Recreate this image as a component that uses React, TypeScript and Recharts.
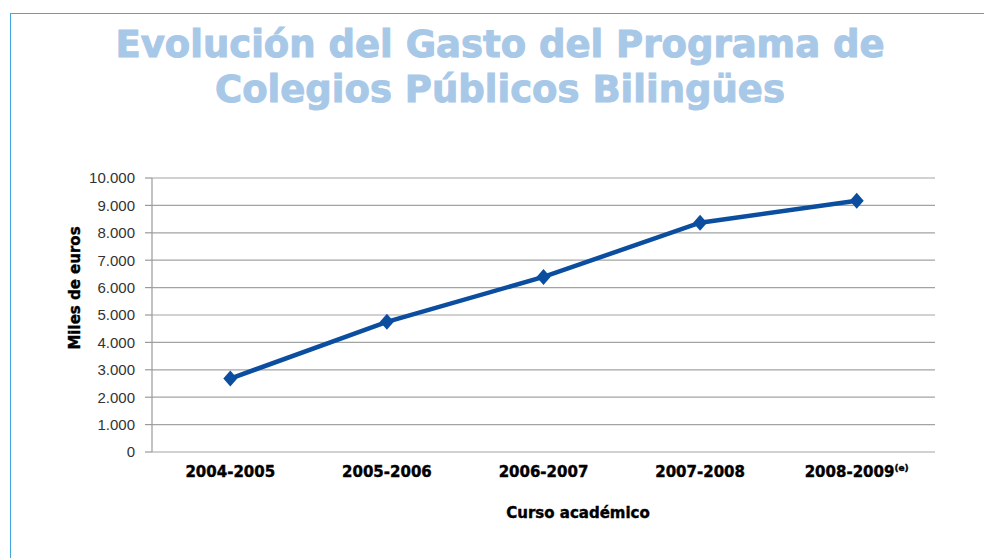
import React from "react";
import {
  LineChart,
  Line,
  XAxis,
  YAxis,
  CartesianGrid,
} from "recharts";

const cursos = ["2004-2005", "2005-2006", "2006-2007", "2007-2008", "2008-2009"];
const notas = ["", "", "", "", "(e)"];
const gasto = [2680, 4750, 6390, 8370, 9170];
const yTicks = [0, 1000, 2000, 3000, 4000, 5000, 6000, 7000, 8000, 9000, 10000];
const boundTicks = [0, 1, 2, 3, 4, 5];

const data = cursos.map((c, i) => ({ curso: c, nota: notas[i], gasto: gasto[i] }));

const BOLD = "'DejaVu Sans', sans-serif";
const PLAIN = "'Liberation Sans', Arial, sans-serif";

function fmt(v: number) {
  return String(v).replace(/\B(?=(\d{3})+(?!\d))/g, ".");
}

function Diamond(props: any) {
  const { cx, cy } = props;
  if (cx == null || cy == null) return null;
  const r = 8;
  return (
    <polygon
      points={`${cx},${cy - r} ${cx + r - 1},${cy} ${cx},${cy + r} ${cx - r + 1},${cy}`}
      fill="#0b4e9f"
    />
  );
}

function CursoTick(props: any) {
  const { x, y, payload, index } = props;
  const nota = notas[index] || "";
  return (
    <text
      x={x}
      y={y + 25}
      textAnchor="middle"
      fontFamily={BOLD}
      fontWeight="bold"
      fontSize={15}
      fill="#000"
      stroke="#000"
      strokeWidth={0.4}
    >
      {payload.value}
      {nota && (
        <tspan dy={-6} fontSize={9}>
          {nota}
        </tspan>
      )}
    </text>
  );
}

export default function App() {
  return (
    <div
      style={{
        position: "absolute",
        left: 0,
        top: 0,
        width: 984,
        height: 558,
        background: "#fff",
        overflow: "hidden",
      }}
    >
      <div
        style={{
          position: "absolute",
          left: 10,
          top: 13,
          width: 990,
          height: 560,
          borderTop: "1.5px solid #3fa6e2",
          borderLeft: "1.5px solid #3fa6e2",
        }}
      />
      <div
        style={{
          position: "absolute",
          left: 0,
          top: 22,
          width: 1000,
          textAlign: "center",
          fontFamily: BOLD,
          fontWeight: "bold",
          fontSize: 37,
          lineHeight: "45px",
          color: "#a8c8e8",
          WebkitTextStroke: "1px #a8c8e8",
        }}
      >
        Evolución del Gasto del Programa de
        <br />
        Colegios Públicos Bilingües
      </div>
      <div
        style={{
          position: "absolute",
          left: 75,
          top: 288,
          transform: "translate(-50%, -50%) rotate(-90deg)",
          whiteSpace: "nowrap",
          fontFamily: BOLD,
          fontWeight: "bold",
          fontSize: 15,
          color: "#000",
          WebkitTextStroke: "0.4px #000",
        }}
      >
        Miles de euros
      </div>
      <div
        style={{
          position: "absolute",
          left: 578,
          top: 513,
          transform: "translate(-50%, -50%)",
          whiteSpace: "nowrap",
          fontFamily: BOLD,
          fontWeight: "bold",
          fontSize: 15,
          color: "#000",
          WebkitTextStroke: "0.4px #000",
        }}
      >
        Curso académico
      </div>
      <div style={{ position: "absolute", left: 0, top: 0 }}>
        <LineChart
          width={984}
          height={558}
          data={data}
          margin={{ top: 178, right: 49, bottom: 46, left: 0 }}
        >
          <CartesianGrid vertical={false} stroke="#a3a3a3" strokeWidth={1.2} />
          <XAxis
            xAxisId="b"
            type="number"
            domain={[0, 5]}
            ticks={boundTicks}
            allowDataOverflow
            tick={false}
            tickSize={6}
            height={0}
            stroke="#9a9a9a"
            strokeWidth={1.2}
          />
          <XAxis
            dataKey="curso"
            scale="band"
            axisLine={false}
            tickLine={false}
            tickSize={0}
            tickMargin={0}
            height={60}
            interval={0}
            tick={<CursoTick />}
          />
          <YAxis
            width={152}
            domain={[0, 10000]}
            ticks={yTicks}
            tickFormatter={fmt}
            tickSize={7}
            tickMargin={10}
            stroke="#9a9a9a"
            strokeWidth={1.2}
            tick={{ fill: "#333", fontSize: 15, fontFamily: PLAIN }}
          />
          <Line
            type="linear"
            dataKey="gasto"
            stroke="#0b4e9f"
            strokeWidth={4.5}
            dot={<Diamond />}
            activeDot={false}
            isAnimationActive={false}
          />
        </LineChart>
      </div>
    </div>
  );
}
